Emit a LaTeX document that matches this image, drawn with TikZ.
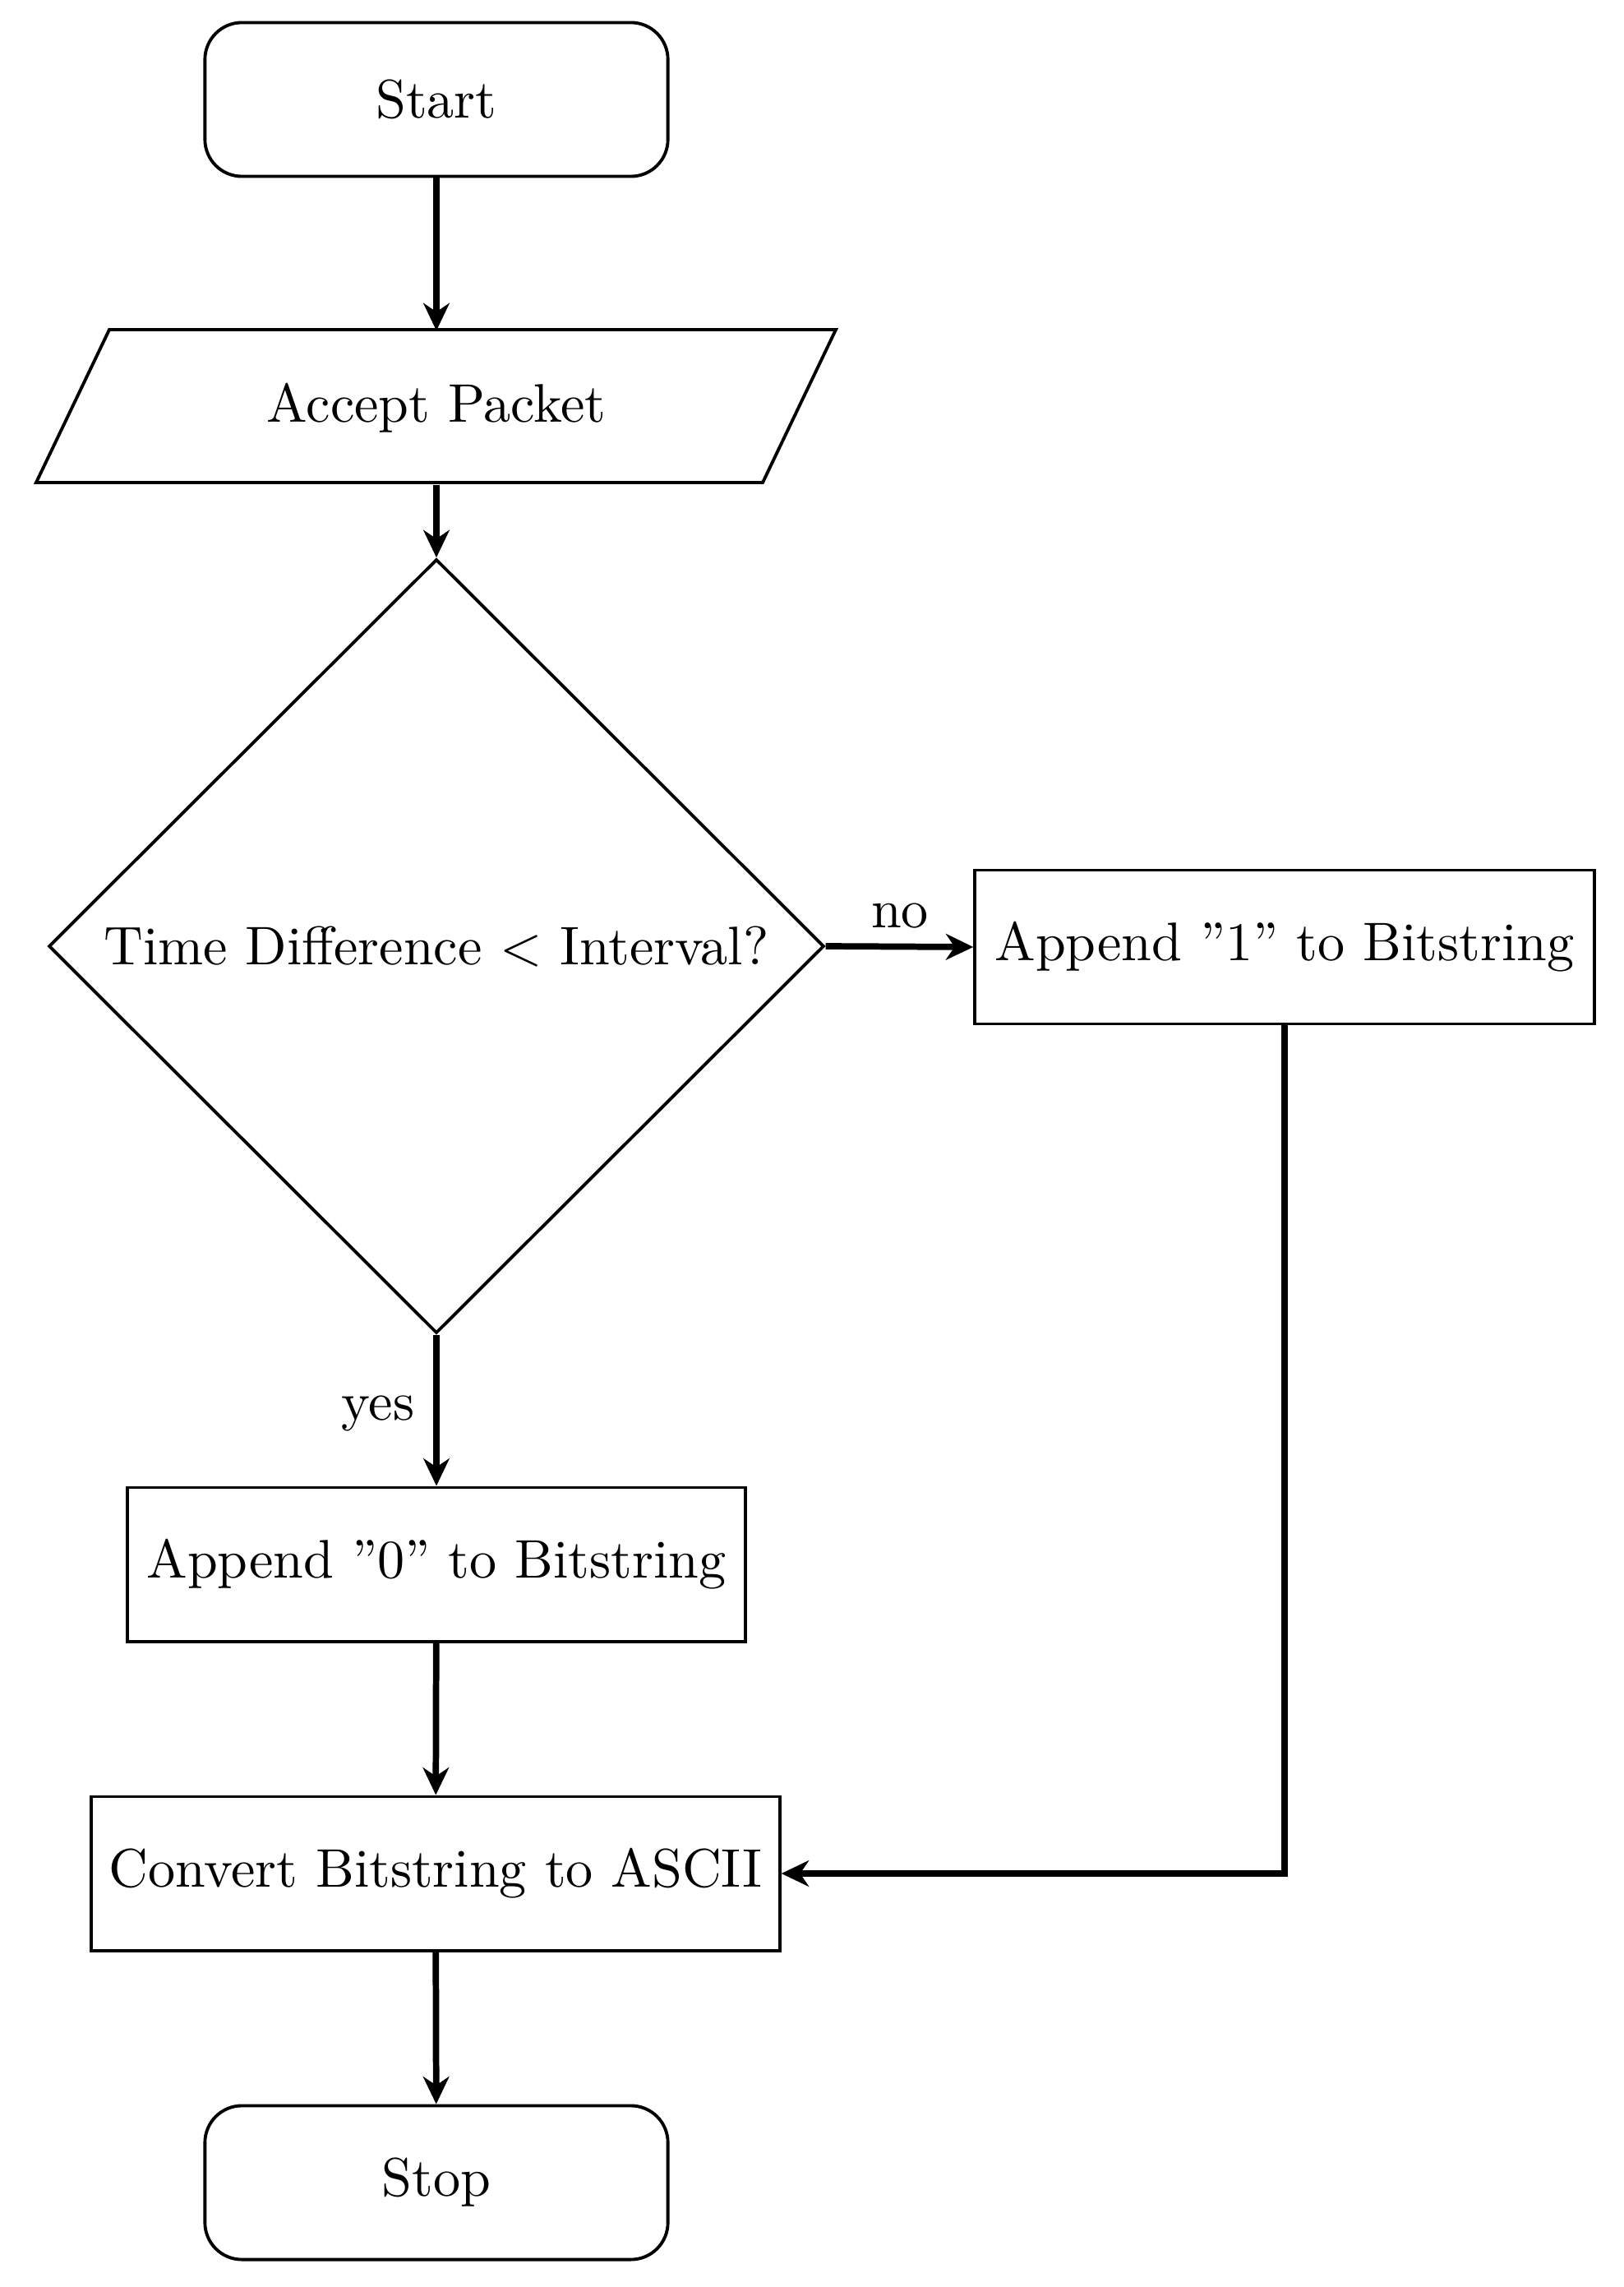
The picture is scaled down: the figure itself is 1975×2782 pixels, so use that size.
\documentclass[tikz,border=0pt]{standalone}
\usepackage{graphicx}
\usetikzlibrary{shapes.geometric,arrows.meta}
\newcommand\bigtxt[1]{\scalebox{1.88}{#1}}
\begin{document}
\begin{tikzpicture}[x=0.01cm,y=-0.01cm,
  every node/.style={inner sep=0pt},
  term/.style={draw, line width=1.1pt, rounded corners=0.45cm, minimum width=5.63cm, minimum height=1.87cm},
  proc/.style={draw, line width=1.1pt, minimum height=1.87cm},
  dec/.style={draw, line width=1.1pt, diamond, aspect=1, minimum width=9.43cm, minimum height=9.41cm},
  iobox/.style={minimum width=8.84cm, minimum height=1.86cm},
  arr/.style={line width=2.2pt, -{Stealth[length=9.5pt,width=9pt,inset=3pt]}}]
\useasboundingbox (0,0) rectangle (1975,2782);
\fill[white] (0,0) rectangle (1975,2782);
\node[term] (start) at (531,121) {\bigtxt{Start}};
\node[iobox] (accept) at (531,496) {\bigtxt{Accept Packet}};
\draw[line width=1.1pt] (133,401) -- (1017,401) -- (928,587) -- (44,587) -- cycle;
\node[dec] (dec) at (531,1151) {\bigtxt{Time Difference $<$ Interval?}};
\node[proc, minimum width=7.53cm] (app1) at (1563,1152) {\bigtxt{Append ”1” to Bitstring}};
\node[proc, minimum width=7.51cm] (app0) at (531,1903) {\bigtxt{Append ”0” to Bitstring}};
\node[proc, minimum width=8.37cm] (conv) at (530,2279) {\bigtxt{Convert Bitstring to ASCII}};
\node[term] (stop) at (531,2655) {\bigtxt{Stop}};
\coordinate (corner) at (app1.south |- conv.east);
\draw[arr] (start) -- (accept);
\draw[arr] (accept) -- (dec);
\draw[arr] (dec.east) -- (app1.west);
\draw[arr] (dec.south) -- (app0.north);
\draw[arr] (app0) -- (conv);
\draw[arr] (app1.south) -- (corner) -- (conv.east);
\draw[arr] (conv) -- (stop);
\node (no) at (1095,1114) {\bigtxt{no}};
\node (yes) at (460,1719) {\bigtxt{yes}};
\end{tikzpicture}
\end{document}
